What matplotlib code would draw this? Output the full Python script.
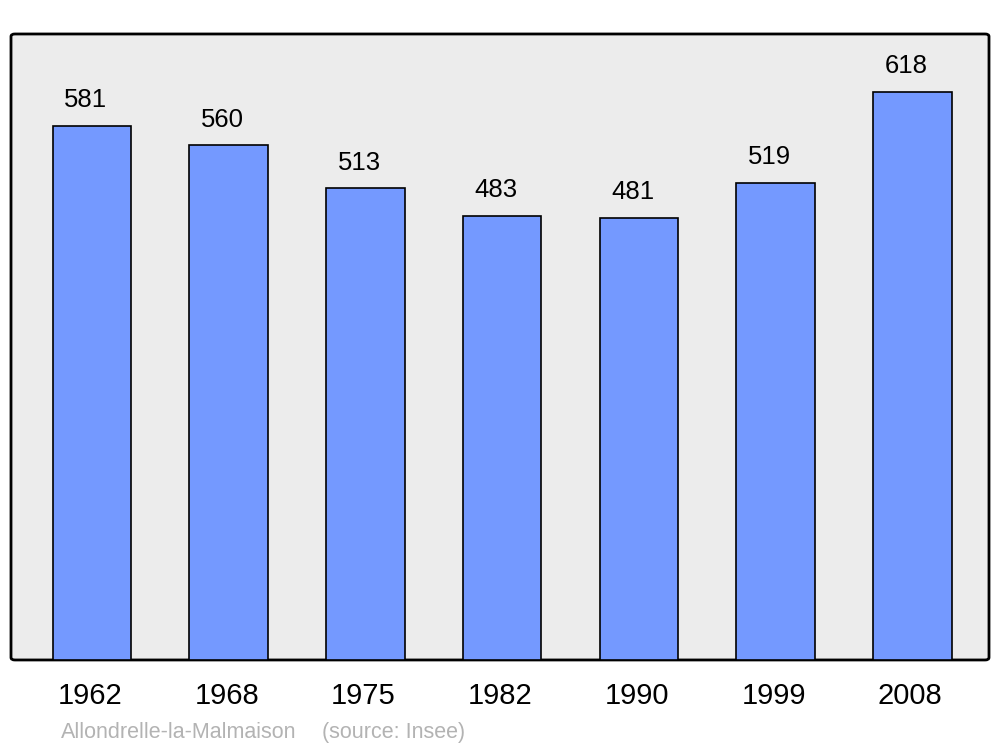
import matplotlib.pyplot as plt
import matplotlib.transforms as mtransforms
from matplotlib.patches import FancyBboxPatch

plt.rcParams.update(
    {
        "font.family": ["Liberation Sans", "DejaVu Sans"],
    }
)

# population data
years = ["1962", "1968", "1975", "1982", "1990", "1999", "2008"]
population = [581, 560, 513, 483, 481, 519, 618]
commune = "Allondrelle-la-Malmaison"
source = "(source: Insee)"

fig = plt.figure(figsize=(10, 7.47), dpi=100)
ax = fig.add_axes([0.011, 0.1165, 0.978, 0.838])
ax.set_facecolor("none")

# framed background with rounded corners
frame = FancyBboxPatch(
    (0, 0), 1, 1,
    boxstyle="round,pad=0,rounding_size=0.004",
    transform=ax.transAxes,
    facecolor="#ececec",
    edgecolor="black",
    linewidth=2,
    zorder=0,
    clip_on=False,
)
ax.add_patch(frame)

x = range(len(years))
ax.bar(x, population, width=0.575, color="#7499ff", edgecolor="black", linewidth=1.2, zorder=2)

for i, v in enumerate(population):
    ax.annotate(
        str(v),
        (i, v),
        xytext=(-4.5, 18.5),
        textcoords="offset points",
        ha="center",
        va="center",
        fontsize=18.5,
    )

ax.set_xlim(-0.5925, 6.5615)
ax.set_ylim(0, 681)
for s in ax.spines.values():
    s.set_visible(False)
ax.set_yticks([])
ax.set_xticks(list(x))
ax.set_xticklabels(years, fontsize=21)
ax.tick_params(axis="x", length=0, pad=16)
shift = mtransforms.ScaledTranslation(-2 / 100, 0, fig.dpi_scale_trans)
for lbl in ax.get_xticklabels():
    lbl.set_transform(lbl.get_transform() + shift)

fig.text(0.061, 0.019, commune, color="#b3b3b3", fontsize=15.5, ha="left", va="center")
fig.text(0.322, 0.019, source, color="#b3b3b3", fontsize=15.5, ha="left", va="center")

plt.savefig("out.png", dpi=100)
